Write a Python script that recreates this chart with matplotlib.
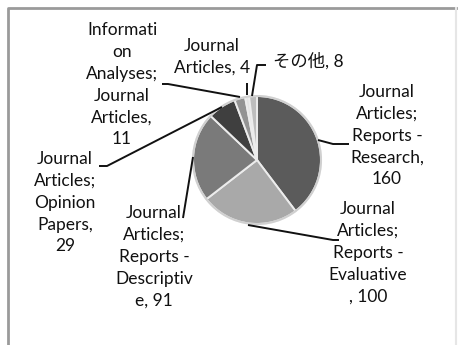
import matplotlib
matplotlib.use("Agg")

import matplotlib.pyplot as plt

plt.rcParams["font.family"] = ["Lato", "Noto Sans CJK JP", "DejaVu Sans"]

# slice data, clockwise from 12 o'clock
labels = [
    "Journal\nArticles;\nReports -\nResearch,\n160",
    "Journal\nArticles;\nReports -\nEvaluative\n, 100",
    "Journal\nArticles;\nReports -\nDescriptiv\ne, 91",
    "Journal\nArticles;\nOpinion\nPapers,\n29",
    "Informati\non\nAnalyses;\nJournal\nArticles,\n11",
    "Journal\nArticles, 4",
    "その他, 8",
]
values = [160, 100, 91, 29, 11, 4, 8]
colors = ["#5b5b5b", "#a9a9a9", "#7a7a7a", "#3f3f3f", "#939393", "#e4e4e4", "#bdbdbd"]

W, H = 461, 345


def Y(y):
    # pixel row -> data y (origin bottom)
    return H - y


fig = plt.figure(figsize=(W / 100, H / 100), dpi=100)
ax = fig.add_axes([0, 0, 1, 1])

wedges, _ = ax.pie(values, colors=colors, startangle=90, counterclock=False,
                   center=(257, Y(160)), radius=64, frame=True,
                   wedgeprops=dict(edgecolor="#ececec", linewidth=1.4))
circle = plt.Circle((257, Y(160)), 64, fill=False, ec="#d0d0d0", lw=1.5)
ax.add_patch(circle)

# chart frame (right edge only faintly visible)
ax.plot([8, 8, 456], [Y(350), Y(8), Y(8)], color="#9a9a9a", lw=2)
ax.plot([456, 456], [Y(8), Y(350)], color="#e6e6e6", lw=1.5)

# label positions (center x, top y in pixels) and leader lines
label_pos = [
    (387, 84), (368, 201), (154, 205), (65, 151), (122, 22), (212, 38), (273, 61),
]
leaders = [
    [(318, 140), (333, 144), (349, 144)],
    [(248, 225), (333, 240), (339, 240)],
    [(193, 157), (183, 218)],
    [(222, 107), (107, 166), (99, 166)],
    [(240, 97), (168, 84), (162, 84)],
    [(247, 95), (247, 83)],
    [(252, 96), (257, 65), (266, 65)],
]

for i, (lab, (lx, ly)) in enumerate(zip(labels, label_pos)):
    if i == 6:
        ax.text(lx, Y(ly), lab, ha="left", va="center", fontsize=12.5,
                color="#111111")
    else:
        ax.text(lx, Y(ly), lab, ha="center", va="top", fontsize=12.5,
                color="#111111", linespacing=1.45)
    pts = leaders[i]
    ax.plot([p[0] for p in pts], [Y(p[1]) for p in pts], color="#111111",
            lw=1.4, solid_capstyle="butt")

ax.set_xlim(0, W)
ax.set_ylim(0, H)
ax.set_aspect("equal")
ax.axis("off")

fig.savefig("out.png", dpi=100)
